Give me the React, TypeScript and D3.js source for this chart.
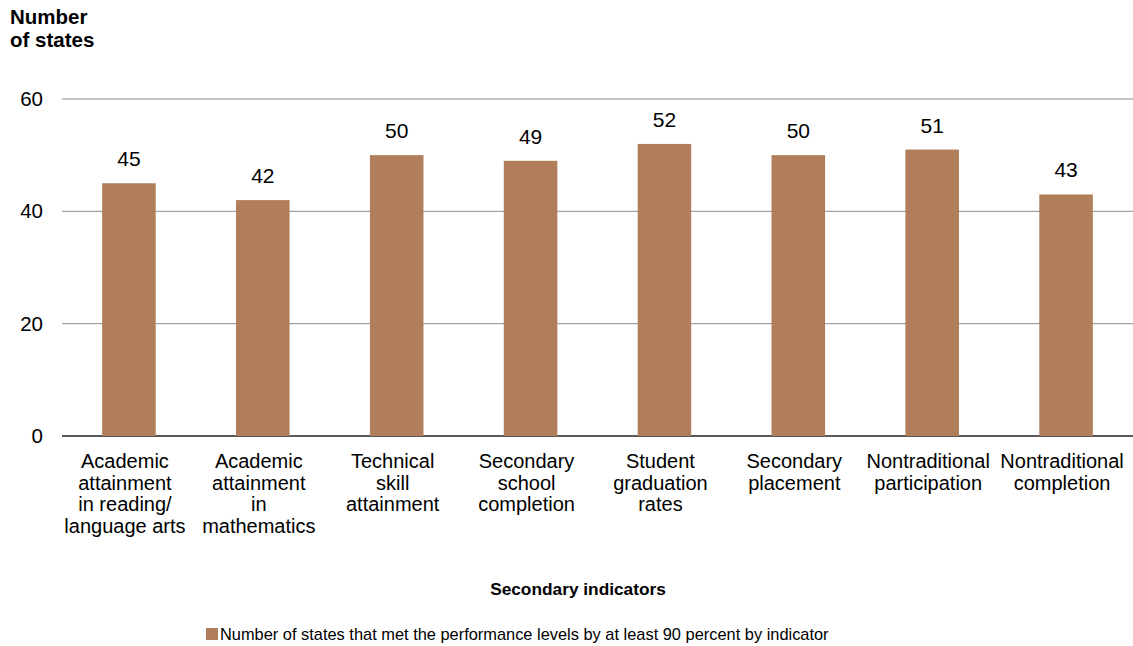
import React from "react";
import * as d3 from "d3";

const categories: string[][] = [
  ["Academic", "attainment", "in reading/", "language arts"],
  ["Academic", "attainment", "in", "mathematics"],
  ["Technical", "skill", "attainment"],
  ["Secondary", "school", "completion"],
  ["Student", "graduation", "rates"],
  ["Secondary", "placement"],
  ["Nontraditional", "participation"],
  ["Nontraditional", "completion"],
];
const values: number[] = [45, 42, 50, 49, 52, 50, 51, 43];
const yTicks: number[] = [0, 20, 40, 60];
const seriesName = "Number of states that met the performance levels by at least 90 percent by indicator";

const W = 1133;
const H = 646;
const left = 62;
const right = 1133;
const top = 99;
const bottom = 436;
const color = "#B07E5B";
const font = "'Liberation Sans', Arial, sans-serif";

export default function App() {
  const keys = categories.map((_, i) => String(i));
  const x = d3.scaleBand<string>().domain(keys).range([left, right]).paddingInner(0.6).paddingOuter(0.3);
  const y = d3.scaleLinear().domain([0, 60]).range([bottom, top]);
  const cx = (i: number) => (x(String(i)) as number) + x.bandwidth() / 2;
  return (
    <svg width={W} height={H} style={{ position: "absolute", left: 0, top: 0, fontFamily: font }}>
      <text x={10} y={24} fontSize={20.5} fontWeight="bold" fill="#000">Number</text>
      <text x={10} y={47} fontSize={20.5} fontWeight="bold" fill="#000">of states</text>
      {yTicks.map((t) => (
        <g key={t}>
          <line x1={left} x2={right} y1={y(t)} y2={y(t)} stroke={t === 0 ? "#222" : "#8c8c8c"} strokeWidth={t === 0 ? 1.5 : 1} />
          <text x={43} y={y(t) + 7} textAnchor="end" fontSize={20.5} fill="#000">{t}</text>
        </g>
      ))}
      {values.map((v, i) => (
        <g key={i}>
          <rect x={x(String(i))} y={y(v)} width={x.bandwidth()} height={y(0) - y(v)} fill={color} />
          <text x={cx(i)} y={y(v) - 17} textAnchor="middle" fontSize={21} fill="#000">{v}</text>
        </g>
      ))}
      {categories.map((lines, i) => (
        <text key={i} x={cx(i) - 4} y={468} textAnchor="middle" fontSize={20} fill="#000">
          {lines.map((l, j) => (
            <tspan key={j} x={cx(i) - 4} dy={j === 0 ? 0 : 21.5}>{l}</tspan>
          ))}
        </text>
      ))}
      <text x={578} y={595} textAnchor="middle" fontSize={17.3} fontWeight="bold" fill="#000">Secondary indicators</text>
      <rect x={206} y={628} width={12} height={12} fill={color} />
      <text x={220} y={640} fontSize={16.4} fill="#000">{seriesName}</text>
    </svg>
  );
}
